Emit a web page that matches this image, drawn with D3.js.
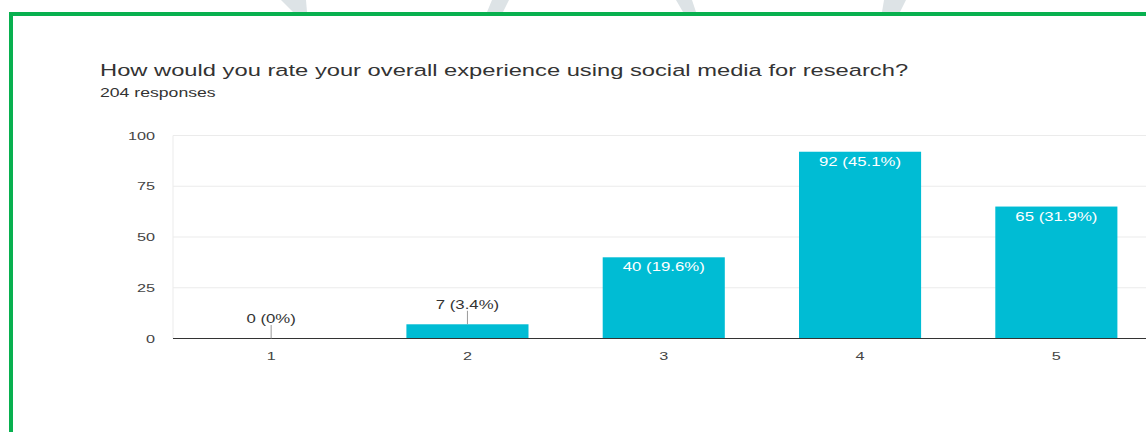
<!DOCTYPE html>
<html>
<head>
<meta charset="utf-8">
<script src="https://cdn.jsdelivr.net/npm/d3@7"></script>
<style>
  html, body { margin: 0; padding: 0; background: #fff; }
  svg { display: block; }
  text { font-family: "Liberation Sans", Arial, sans-serif; }
</style>
</head>
<body>
<svg id="chart" width="1146" height="432"></svg>
<script>
// Survey results: rating 1–5
const categories = ["1", "2", "3", "4", "5"];
const counts = [0, 7, 40, 92, 65];
const totalResponses = 204;
const yTicks = [0, 25, 50, 75, 100];
const titleText = "How would you rate your overall experience using social media for research?";
const subtitleText = totalResponses + " responses";

const W = 1146, H = 432;
const SX = 1.4;          // horizontal text stretch
const svg = d3.select("#chart");

svg.append("rect").attr("width", W).attr("height", H).attr("fill", "#fff");

// faint decorative shapes peeking above the frame
const deco = svg.append("g").attr("fill", "#dde3e6");
[
  "M281,0 L306,0 L307,12 L293,12 Z",
  "M492,0 L509,0 L503,12 L487,12 Z",
  "M676,0 L692,0 L696,12 L683,12 Z",
  "M884,0 L906,0 L900,12 L882,12 Z"
].forEach(d => deco.append("path").attr("d", d));

// green frame
svg.append("rect")
  .attr("x", 11).attr("y", 14)
  .attr("width", 1200).attr("height", 500)
  .attr("fill", "none")
  .attr("stroke", "#08b04f").attr("stroke-width", 4);

const plotLeft = 173, step = 196.3;
const x = d3.scaleBand()
  .domain(categories)
  .range([plotLeft, plotLeft + step * categories.length])
  .paddingInner(0.378)
  .paddingOuter(0.189);

const y = d3.scaleLinear().domain([0, 100]).range([338.5, 135.5]);

function stretchedText(g, tx, ty) {
  return g.append("text").attr("transform", `translate(${tx},${ty}) scale(${SX},1)`);
}

// title
stretchedText(svg, 100, 76)
  .attr("font-size", 16.95).attr("fill", "#333").text(titleText);
stretchedText(svg, 100, 97)
  .attr("font-size", 12.6).attr("fill", "#333").text(subtitleText);

// grid
const grid = svg.append("g");
grid.selectAll("line.h")
  .data(yTicks.filter(t => t > 0))
  .join("line")
  .attr("x1", plotLeft).attr("x2", W)
  .attr("y1", d => y(d)).attr("y2", d => y(d))
  .attr("stroke", "#ebebeb").attr("stroke-width", 1);
grid.append("line")
  .attr("x1", plotLeft).attr("x2", plotLeft)
  .attr("y1", y(100)).attr("y2", y(0))
  .attr("stroke", "#ebebeb");

// y tick labels
svg.append("g").selectAll("text")
  .data(yTicks)
  .join("text")
  .attr("transform", d => `translate(155,${y(d)}) scale(${SX},1)`)
  .attr("text-anchor", "end")
  .attr("dominant-baseline", "central")
  .attr("font-size", 11.6).attr("fill", "#444")
  .text(d => d);

// bars
const data = categories.map((c, i) => ({ cat: c, value: counts[i] }));
svg.append("g").selectAll("rect")
  .data(data)
  .join("rect")
  .attr("x", d => x(d.cat))
  .attr("width", x.bandwidth())
  .attr("y", d => y(d.value))
  .attr("height", d => y(0) - y(d.value))
  .attr("fill", "#00bcd4");

// baseline
svg.append("line")
  .attr("x1", plotLeft).attr("x2", W)
  .attr("y1", y(0)).attr("y2", y(0))
  .attr("stroke", "#333").attr("stroke-width", 1);

// x tick labels
svg.append("g").selectAll("text")
  .data(categories)
  .join("text")
  .attr("transform", d => `translate(${x(d) + x.bandwidth() / 2},356) scale(${SX},1)`)
  .attr("text-anchor", "middle")
  .attr("dominant-baseline", "central")
  .attr("font-size", 11.6).attr("fill", "#444")
  .text(d => d);

// value labels
const pct = v => (Math.round(v / totalResponses * 1000) / 10) + "%";
const labels = svg.append("g");
data.forEach(d => {
  const cx = x(d.cat) + x.bandwidth() / 2;
  const top = y(d.value);
  const txt = `${d.value} (${pct(d.value)})`;
  if (d.value >= 20) {
    stretchedText(labels, cx, top + 10)
      .attr("text-anchor", "middle").attr("dominant-baseline", "central")
      .attr("font-size", 12).attr("fill", "#fff").text(txt);
  } else {
    labels.append("line")
      .attr("x1", cx).attr("x2", cx)
      .attr("y1", top - 13.5).attr("y2", top)
      .attr("stroke", "#999").attr("stroke-width", 1);
    stretchedText(labels, cx, top - 19.5)
      .attr("text-anchor", "middle").attr("dominant-baseline", "central")
      .attr("font-size", 12).attr("fill", "#333").text(txt);
  }
});
</script>
</body>
</html>
